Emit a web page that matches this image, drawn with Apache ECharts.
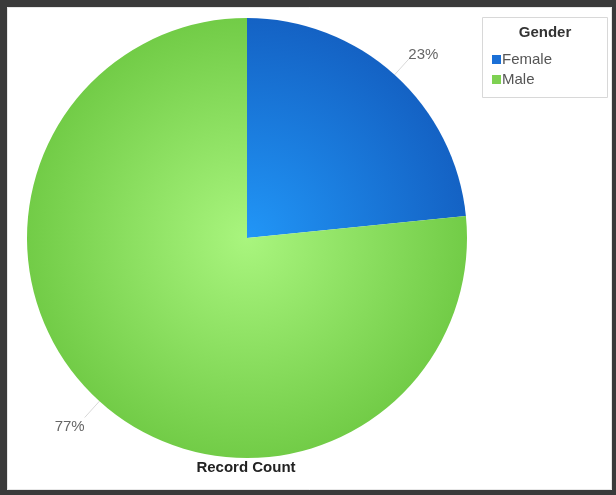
<!DOCTYPE html>
<html><head><meta charset="utf-8">
<script src="https://cdn.jsdelivr.net/npm/echarts@6/dist/echarts.min.js"></script>
<style>html,body{margin:0;padding:0;background:#fff}#c{width:616px;height:495px}</style>
</head><body><div id="c"></div>
<script>
const categories = ['Female', 'Male'];
const values = [23.4, 76.6];
const legendTitle = 'Gender';
const axisTitle = 'Record Count';

const cx = 247, cy = 238, R = 220;
const FONT = 'Liberation Sans, Arial, sans-serif';
const grads = [
  {type:'radial', x:cx, y:cy, r:R, global:true, colorStops:[{offset:0,color:'#2196f7'},{offset:1,color:'#1462c4'}]},
  {type:'radial', x:cx, y:cy, r:R, global:true, colorStops:[{offset:0,color:'#a9f57e'},{offset:1,color:'#72cc47'}]}
];
const legendColors = ['#1a6fd6', '#7ed152'];
const labelShift = [[-4, -4], [3, 9]];

const chart = echarts.init(document.getElementById('c'), null, {renderer:'canvas'});
chart.setOption({
  animation: false,
  legend: {
    orient: 'vertical', left: 492, top: 52, itemWidth: 9, itemHeight: 9, itemGap: 5, icon: 'rect', padding: 0,
    data: categories.map((n,i)=>({name:n, itemStyle:{color:legendColors[i]}})),
    textStyle: {fontFamily:FONT, fontSize: 15, lineHeight: 15, color:'#555', padding:[0,0,0,-4]}
  },
  graphic: [
    {type:'rect', shape:{x:0,y:0,width:616,height:7}, style:{fill:'#3a3a3a'}, z:100},
    {type:'rect', shape:{x:0,y:0,width:7,height:495}, style:{fill:'#3a3a3a'}, z:100},
    {type:'rect', shape:{x:612,y:0,width:4,height:495}, style:{fill:'#3a3a3a'}, z:100},
    {type:'rect', shape:{x:0,y:490,width:616,height:5}, style:{fill:'#3a3a3a'}, z:100},
    {type:'rect', shape:{x:7.5,y:7.5,width:604,height:482}, style:{fill:null, stroke:'#e6e6e6', lineWidth:1}, z:99},
    {type:'rect', shape:{x:482.5,y:17.5,width:125,height:80}, style:{fill:'#fff', stroke:'#d8d8d8', lineWidth:1}, z:-1},
    {type:'text', x:545, y:33, style:{text:legendTitle, font:'bold 15px ' + FONT, fill:'#333', align:'center', verticalAlign:'middle'}},
    {type:'text', x:246, y:468, style:{text:axisTitle, font:'bold 15px ' + FONT, fill:'#222', align:'center', verticalAlign:'middle'}}
  ],
  series: [{
    type: 'pie', center: [cx, cy], radius: R, startAngle: 90, clockwise: true,
    data: categories.map((n,i)=>({name:n, value:values[i], itemStyle:{color:grads[i]}})),
    label: {show:true, position:'outside', formatter: p => Math.round(p.percent) + '%', fontFamily:FONT, fontSize:15, color:'#666', distanceToLabelLine: 3},
    labelLine: {show:true, length:22, length2:0, lineStyle:{color:'#d8d8d8', width:1}},
    labelLayout: p => ({dx: labelShift[p.dataIndex][0], dy: labelShift[p.dataIndex][1]}),
    emphasis: {disabled:true}
  }]
});
</script></body></html>
